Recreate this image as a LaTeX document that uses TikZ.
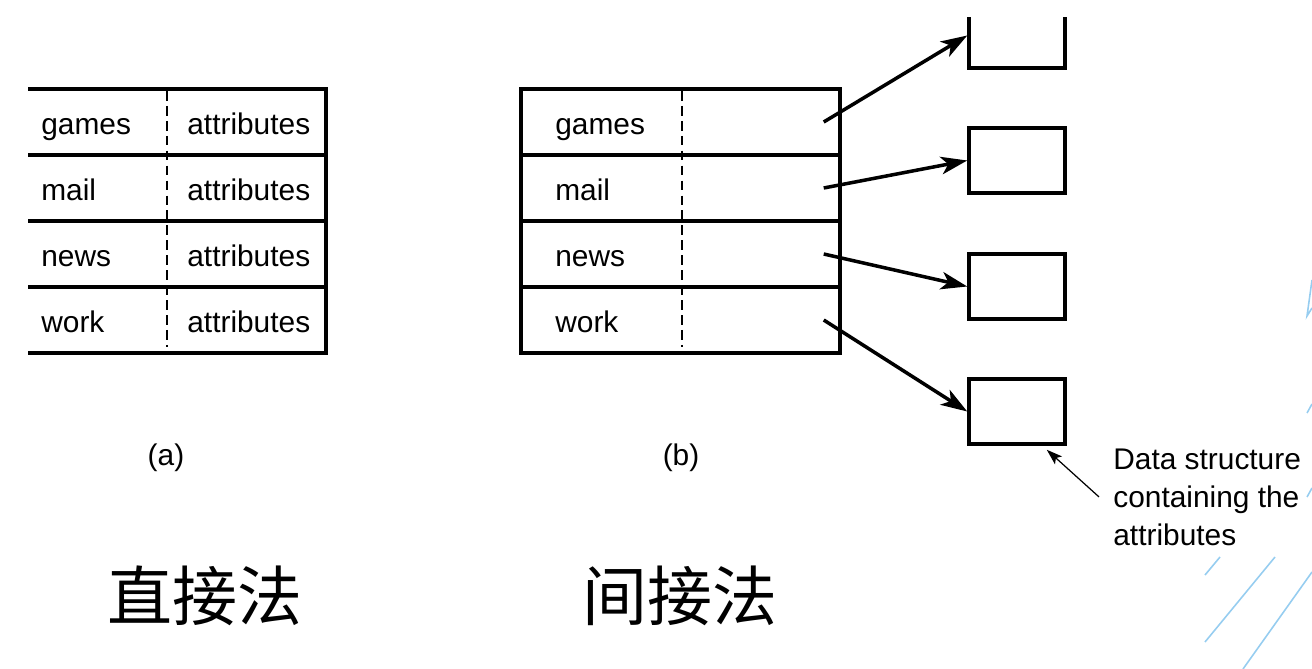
\documentclass[tikz,border=0pt]{standalone}
\usepackage{fontspec}
\setmainfont{Liberation Sans}
\newfontfamily\cjk{Noto Sans CJK SC}
\usetikzlibrary{arrows.meta,positioning,calc}
\definecolor{slideblue}{RGB}{150,205,240}

\begin{document}
\begin{tikzpicture}[x=0.02cm,y=-0.02cm,
	cell/.style={anchor=base west,inner sep=0pt,font=\fontsize{17}{20}\selectfont},
	caption/.style={inner sep=0pt,font=\fontsize{17}{20}\selectfont},
	cjklabel/.style={inner sep=0pt,font=\cjk\fontsize{37}{40}\selectfont},
	rule/.style={line width=2pt},
	divider/.style={line width=1pt,dash pattern=on 5.5pt off 3pt},
	row/.style={draw,line width=2pt,minimum width=6.38cm,minimum height=1.32cm,inner sep=0pt},
	attrbox/.style={draw,line width=2pt,minimum width=1.92cm,minimum height=1.3cm,inner sep=0pt},
	ptr/.style={-{Stealth[length=15pt,width=10pt,inset=4pt]},line width=2pt},
	noteptr/.style={-{Stealth[length=9pt,width=6pt,inset=2pt]},line width=0.7pt},
	note/.style={anchor=base west,align=left,inner sep=0pt,font=\fontsize{17}{21.6}\selectfont},
	deco/.style={draw=slideblue,line width=0.9pt}]

	\useasboundingbox (0,0) rectangle (1312,669);

	% slide decoration at the right edge
	\draw[deco] (1205,575) -- (1220,557);
	\draw[deco] (1205,642) -- (1275,557);
	\draw[deco] (1243,669) -- (1312,572);
	\draw[deco] (1307,497) -- (1312,488);
	\draw[deco] (1307,413) -- (1312,404);
	\draw[deco] (1312,280) -- (1307,316) -- (1312,308);

	% (a) names and attributes in one table
	\draw[rule] (28,89) -- (326,89) -- (326,353) -- (28,353);
	\foreach \y in {155,221,287} \draw[rule] (28,\y) -- (326,\y);
	\draw[divider] (167,91) -- (167,347);
	\foreach \name [count=\i] in {games,mail,news,work} {
		\node[cell] (a\i) at (41,{134+66*(\i-1)}) {\name};
		\node[cell] (v\i) at (187,{134+66*(\i-1)}) {attributes};
	}

	% (b) names with pointers
	\foreach \name [count=\i] in {games,mail,news,work} {
		\node[row] (r\i) at (680.5,{122+66*(\i-1)}) {};
		\node[cell] (n\i) at (555,{134+66*(\i-1)}) {\name};
		\coordinate (p\i) at ([xshift=-0.36cm]r\i.east);
	}
	\draw[divider] (682,91) -- (682,347);

	\begin{scope}
		\clip (900,18) rectangle (1100,120);
		\node[attrbox] (b1) at (1017,35.5) {};
	\end{scope}
	\node[attrbox] (b2) at (1017,160.5) {};
	\node[attrbox] (b3) at (1017,286.5) {};
	\node[attrbox] (b4) at (1017,411.5) {};

	\foreach \i in {1,...,4} \draw[ptr] (p\i) -- (b\i.west);

	\node[note] (note) at (1113,545) {Data structure\\containing the\\attributes};
	\draw[noteptr] ([xshift=-0.28cm]note.west) -- ([xshift=-0.4cm,yshift=-0.08cm]b4.south east);

	\node[caption] (capa) at (166,458) {(a)};
	\node[caption] (capb) at (681,458) {(b)};
	\node[cjklabel] (direct) at (205,596) {直接法};
	\node[cjklabel] (indirect) at (680,596) {间接法};

\end{tikzpicture}
\end{document}
